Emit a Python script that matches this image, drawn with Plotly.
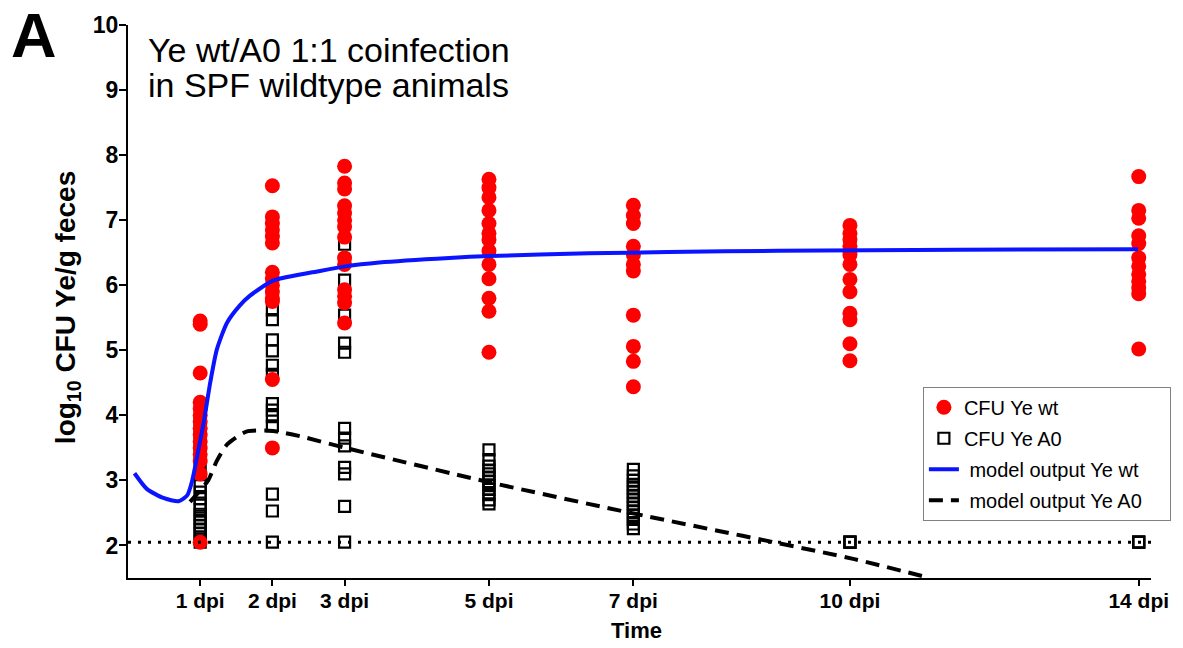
import plotly.graph_objects as go

# ---------------- data ----------------
tick_days = [1, 2, 3, 5, 7, 10, 14]
tick_labels = ["1 dpi", "2 dpi", "3 dpi", "5 dpi", "7 dpi", "10 dpi", "14 dpi"]
y_ticks = [2, 3, 4, 5, 6, 7, 8, 9, 10]

wt_d1 = [5.45, 5.40, 4.65, 4.20, 4.10, 4.00, 3.90, 3.80, 3.70, 3.60, 3.50, 3.40, 3.30, 3.10, 2.05]
wt_d2 = [7.53, 7.05, 6.95, 6.85, 6.75, 6.65, 6.20, 6.10, 6.00, 5.90, 5.80, 5.75, 4.55, 3.50]
wt_d3 = [7.83, 7.57, 7.48, 7.22, 7.11, 7.00, 6.90, 6.74, 6.42, 6.32, 5.93, 5.83, 5.73, 5.42]
wt_d5 = [7.63, 7.50, 7.35, 7.15, 6.95, 6.80, 6.70, 6.53, 6.32, 6.10, 5.80, 5.60, 4.97]
wt_d7 = [7.23, 7.07, 6.95, 6.60, 6.47, 6.32, 6.22, 5.54, 5.06, 4.83, 4.44]
wt_d10 = [6.92, 6.80, 6.70, 6.60, 6.47, 6.32, 6.09, 5.90, 5.57, 5.47, 5.10, 4.84]
wt_d14 = [7.67, 7.15, 7.03, 6.76, 6.64, 6.42, 6.29, 6.17, 6.06, 5.96, 5.87, 5.02]

a0_d1 = [3.90, 3.70, 3.50, 3.30, 3.10, 2.92, 2.82, 2.72, 2.62, 2.55, 2.48, 2.42,
         2.36, 2.30, 2.24, 2.18, 2.10, 2.05]
a0_d2 = [5.85, 5.62, 5.47, 5.16, 4.99, 4.77, 4.63, 4.18, 4.08, 3.98, 3.84, 2.79, 2.53, 2.05]
a0_d3 = [6.63, 6.08, 5.54, 5.11, 4.97, 3.80, 3.65, 3.53, 3.20, 3.10, 2.60, 2.05]
a0_d5 = [3.47, 3.32, 3.22, 3.16, 3.10, 3.04, 2.98, 2.92, 2.86, 2.78, 2.70, 2.64]
a0_d7 = [3.17, 3.07, 3.00, 2.94, 2.88, 2.82, 2.76, 2.70, 2.64, 2.58, 2.52, 2.46,
         2.40, 2.33, 2.26]
a0_d10 = [2.05, 2.05, 2.05]
a0_d14 = [2.05, 2.05, 2.05]

model_wt_t = [0.09, 0.26, 0.49, 0.70, 0.82, 0.89, 0.98, 1.05, 1.14, 1.23, 1.37, 1.55,
              1.69, 2.01, 2.66, 3.01, 3.48, 4.45, 5.01, 6.38, 7.48, 9.00, 11.5, 13.99]
model_wt_y = [3.11, 2.87, 2.73, 2.68, 2.77, 3.00, 3.50, 3.90, 4.51, 5.01, 5.42, 5.69,
              5.84, 6.07, 6.22, 6.29, 6.35, 6.42, 6.45, 6.49, 6.51, 6.53, 6.545, 6.555]

model_a0_t = [0.86, 1.11, 1.23, 1.37, 1.64, 2.01, 2.38, 3.01, 5.01, 7.01, 10.06, 11.07]
model_a0_y = [2.67, 3.00, 3.30, 3.55, 3.75, 3.76, 3.68, 3.50, 2.97, 2.49, 1.79, 1.51]

lod_t = [0, 14.17]
lod_y = [2.05, 2.05]

# ---------------- build ----------------
wt_cols = [wt_d1, wt_d2, wt_d3, wt_d5, wt_d7, wt_d10, wt_d14]
a0_cols = [a0_d1, a0_d2, a0_d3, a0_d5, a0_d7, a0_d10, a0_d14]

wt_x, wt_y, a0_x, a0_y = [], [], [], []
for d, col in zip(tick_days, wt_cols):
    wt_x += [d] * len(col)
    wt_y += col
for d, col in zip(tick_days, a0_cols):
    a0_x += [d] * len(col)
    a0_y += col

FONT = "Liberation Sans, Arial, sans-serif"
PAD = "\u00a0" * 4  # widens the legend box like the reference

fig = go.Figure()
fig.add_trace(go.Scatter(
    x=a0_x, y=a0_y, mode="markers", name="CFU Ye A0", legendrank=2, legendgroup="b",
    marker=dict(symbol="square-open", size=11, color="black", line=dict(width=2.2, color="black")),
))
fig.add_trace(go.Scatter(
    x=wt_x, y=wt_y, mode="markers", name="CFU Ye wt", legendrank=1, legendgroup="a",
    marker=dict(symbol="circle", size=15, color="#ff0000", line=dict(width=0)),
))
fig.add_trace(go.Scatter(
    x=lod_t, y=lod_y, mode="lines", showlegend=False,
    line=dict(color="black", width=3, dash="3px,7px"),
))
fig.add_trace(go.Scatter(
    x=model_a0_t, y=model_a0_y, mode="lines", name=" model output Ye A0" + PAD, legendrank=4,
    legendgroup="d",
    line=dict(color="black", width=4, dash="14px,8px", shape="spline", smoothing=0.6),
))
fig.add_trace(go.Scatter(
    x=model_wt_t, y=model_wt_y, mode="lines", name=" model output Ye wt", legendrank=3,
    legendgroup="c",
    line=dict(color="#0a14ff", width=4, shape="spline", smoothing=0.6),
))

L, R, T, B = 128, 28, 17, 70
W, H = 1183, 648
pw, ph = W - L - R, H - T - B

def px(xp):
    return (xp - L) / pw

def py(yp):
    return (H - B - yp) / ph

fig.update_layout(
    width=W, height=H,
    margin=dict(l=L, r=R, t=T, b=B),
    paper_bgcolor="white", plot_bgcolor="white",
    font=dict(family=FONT, color="black"),
    showlegend=True,
    legend=dict(
        x=px(926), y=py(384), xanchor="left", yanchor="top",
        bgcolor="white", bordercolor="#808080", borderwidth=1,
        font=dict(size=20, family=FONT, color="black"),
        itemwidth=30, tracegroupgap=2,
    ),
    xaxis=dict(
        range=[0, 14.17], showgrid=False, zeroline=False,
        showline=True, linecolor="black", linewidth=2,
        ticks="outside", ticklen=6, tickwidth=2, tickcolor="black",
        tickvals=tick_days, ticktext=tick_labels, ticklabelstandoff=-3,
        tickfont=dict(size=21, family=FONT, color="black", weight="bold"),
    ),
    yaxis=dict(
        range=[1.5, 10], showgrid=False, zeroline=False,
        showline=True, linecolor="black", linewidth=2,
        ticks="outside", ticklen=7, tickwidth=2, tickcolor="black",
        tickvals=y_ticks, ticklabelstandoff=-4,
        tickfont=dict(size=23, family=FONT, color="black", weight="bold"),
    ),
    annotations=[
        dict(text="<b>A</b>", xref="paper", yref="paper", x=px(34), y=py(-10),
             xanchor="center", yanchor="top", showarrow=False,
             font=dict(size=63, family=FONT, color="black")),
        dict(text="Ye wt/A0 1:1 coinfection",
             xref="paper", yref="paper", x=px(146), y=py(21),
             xanchor="left", yanchor="top", showarrow=False,
             font=dict(size=34, family=FONT, color="black")),
        dict(text="in SPF wildtype animals",
             xref="paper", yref="paper", x=px(146), y=py(57),
             xanchor="left", yanchor="top", showarrow=False,
             font=dict(size=34, family=FONT, color="black")),
        dict(text="<b>log<sub>10</sub> CFU Ye/g feces</b>", xref="paper", yref="paper",
             x=px(68), y=py(304), xanchor="center", yanchor="middle",
             textangle=-90, showarrow=False,
             font=dict(size=28, family=FONT, color="black")),
        dict(text="<b>Time</b>", xref="paper", yref="paper",
             x=px(638), y=py(631), xanchor="center", yanchor="middle",
             showarrow=False, font=dict(size=22, family=FONT, color="black")),
    ],
)

fig.write_html("out.html", config={"displayModeBar": False},
               post_script="document.body.style.margin='0px';")
